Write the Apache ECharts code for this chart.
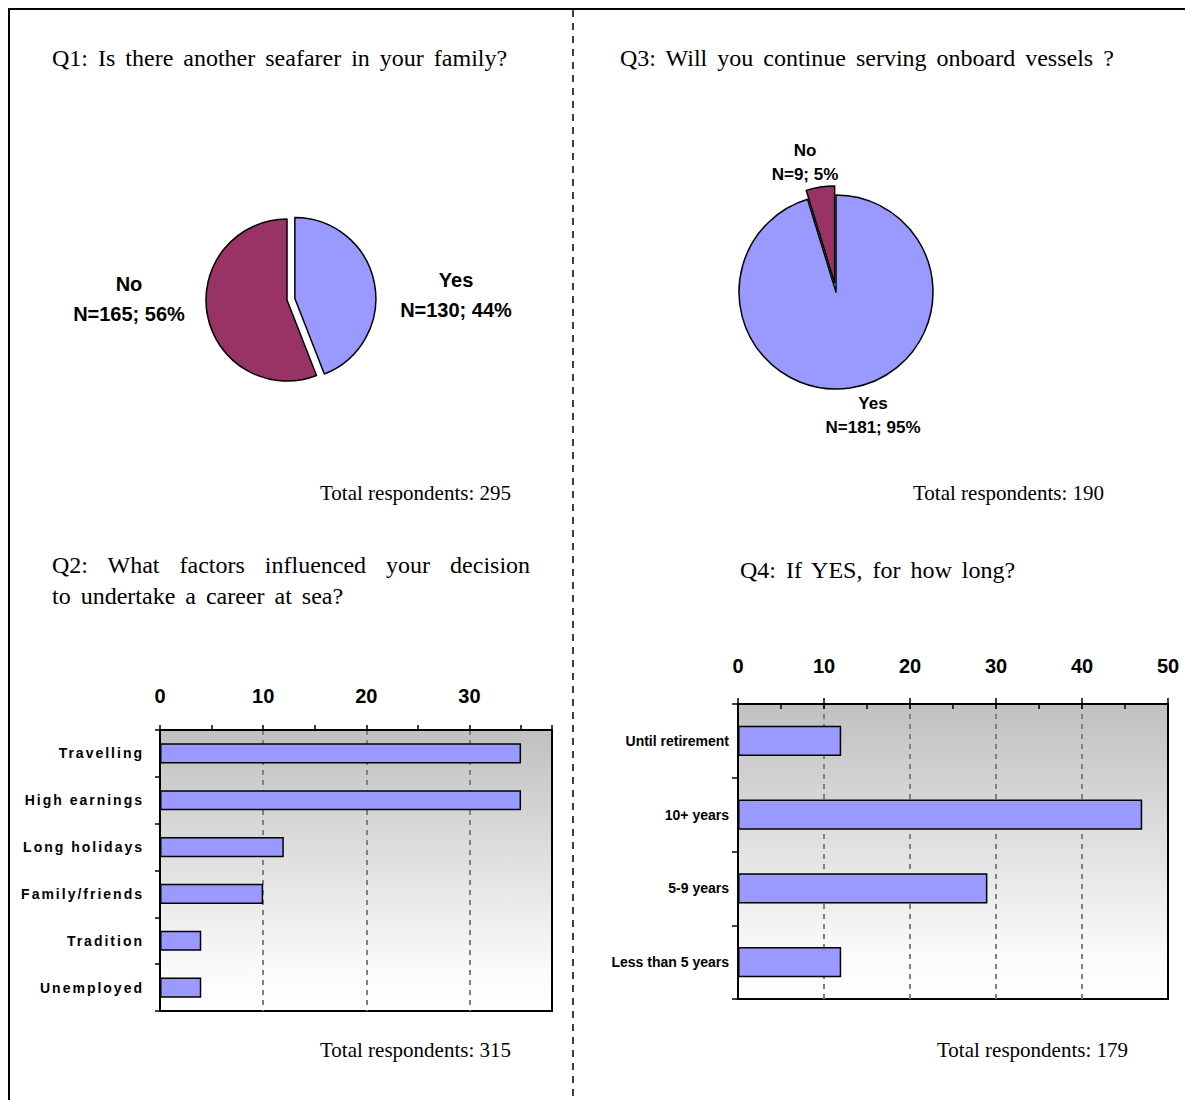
<!DOCTYPE html>
<html>
<head>
<meta charset="utf-8">
<title>Seafarer survey</title>
<script src="https://cdn.jsdelivr.net/npm/echarts@6/dist/echarts.min.js"></script>
<style>
  html, body { margin: 0; padding: 0; background: #ffffff; }
  #chart { width: 1185px; height: 1100px; }
  /* spaced lettering for the Q2 factor labels */
  #chart text[style*="Arimo"] { letter-spacing: 2px; }
  /* question headings are set with wide word gaps */
  #chart text[style*="Times New Roman"] { word-spacing: 4px; }
  #chart text[style*="Tinos"] { word-spacing: 14px; }
</style>
</head>
<body>
<div id="chart"></div>
<script>
// Q1: another seafarer in the family
const q1Names = ['Yes', 'No'];
const q1Values = [130, 165];

// Q3: continue serving onboard
const q3Names = ['Yes', 'No'];
const q3Values = [181, 9];

// Q2: factors behind the career choice (%)
const q2Categories = ['Travelling', 'High earnings', 'Long holidays', 'Family/friends', 'Tradition', 'Unemployed'];
const q2Values = [35, 35, 12, 10, 4, 4];
const q2AxisMax = 38;
const q2LabelStep = 10;
const q2TickStep = 5;

// Q4: for how long (%)
const q4Categories = ['Until retirement', '10+ years', '5-9 years', 'Less than 5 years'];
const q4Values = [12, 47, 29, 12];
const q4AxisMax = 50;
const q4LabelStep = 10;
const q4TickStep = 5;

// Totals printed under each panel
const totals = { q1: 295, q3: 190, q2: 315, q4: 179 };

const SANS = "'Liberation Sans', Arial, sans-serif";
const SANS_SPACED = "'Liberation Sans', Arimo, sans-serif";
const SERIF_TITLE = "'Liberation Serif', 'Times New Roman', serif";
const SERIF_JUSTIFIED = "'Liberation Serif', Tinos, serif";
const SERIF_PLAIN = "'Liberation Serif', serif";

const YES_COLOR = '#9999FF';
const NO_COLOR = '#993366';

const chart = echarts.init(document.getElementById('chart'), null, { renderer: 'svg' });

function pieData(names, values, explode) {
  return names.map((n, i) => ({
    name: n,
    value: values[i],
    selected: n === explode,
    itemStyle: { color: n === 'Yes' ? YES_COLOR : NO_COLOR }
  }));
}

function serifText(text, x, y, size, family) {
  return {
    type: 'text', x: x, y: y, silent: true,
    style: { text: text, font: size + 'px ' + family, fill: '#000', align: 'left', verticalAlign: 'middle' }
  };
}

// "Yes\nN=130; 44%" style captions, worked out from the slice values
function pieCaptions(names, values, places, size, lineHeight) {
  const sum = values.reduce((a, b) => a + b, 0);
  return names.map((n, i) => ({
    type: 'text', x: places[n][0], y: places[n][1], silent: true,
    style: {
      text: n + '\nN=' + values[i] + '; ' + Math.round(values[i] / sum * 100) + '%',
      font: 'bold ' + size + 'px ' + SANS, fill: '#000',
      align: 'center', verticalAlign: 'middle', lineHeight: lineHeight
    }
  }));
}

const plotBg = {
  type: 'linear', x: 0, y: 0, x2: 0, y2: 1,
  colorStops: [
    { offset: 0, color: '#c0c0c0' },
    { offset: 0.85, color: '#fafafa' },
    { offset: 1, color: '#ffffff' }
  ]
};

const dashedGrid = { show: true, showMinLine: false, showMaxLine: false,
  lineStyle: { color: '#808080', width: 2, type: [5, 5] } };

const q1LabelPos = { Yes: [456, 295], No: [129, 299] };
const q3LabelPos = { Yes: [873, 415], No: [805, 162] };

const option = {
  animation: false,
  backgroundColor: '#ffffff',
  graphic: [
    // page frame and centre divider
    { type: 'line', silent: true, shape: { x1: 8, y1: 9, x2: 1185, y2: 9 }, style: { stroke: '#000', lineWidth: 2 } },
    { type: 'line', silent: true, shape: { x1: 9, y1: 8, x2: 9, y2: 1100 }, style: { stroke: '#000', lineWidth: 2 } },
    { type: 'line', silent: true, shape: { x1: 573, y1: 10, x2: 573, y2: 1100 }, style: { stroke: '#000', lineWidth: 1.5, lineDash: [7, 6] } },

    serifText('Q1: Is there another seafarer in your family?', 52, 58, 24, SERIF_TITLE),
    serifText('Q3: Will you continue serving onboard vessels ?', 620, 58, 24, SERIF_TITLE),
    serifText('Total respondents: ' + totals.q1, 320, 493, 21, SERIF_PLAIN),
    serifText('Total respondents: ' + totals.q3, 913, 493, 21, SERIF_PLAIN),
    serifText('Q2: What factors influenced your decision', 52, 565, 24, SERIF_JUSTIFIED),
    serifText('to undertake a career at sea?', 52, 596, 24, SERIF_TITLE),
    serifText('Q4: If YES, for how long?', 740, 570, 24, SERIF_TITLE),
    serifText('Total respondents: ' + totals.q2, 320, 1050, 21, SERIF_PLAIN),
    serifText('Total respondents: ' + totals.q4, 937, 1050, 21, SERIF_PLAIN)
  ]
    .concat(pieCaptions(q1Names, q1Values, q1LabelPos, 20, 30))
    .concat(pieCaptions(q3Names, q3Values, q3LabelPos, 17, 24)),
  grid: [
    { left: 160, top: 730, width: 392, height: 281, show: true,
      backgroundColor: plotBg, borderColor: '#000', borderWidth: 2 },
    { left: 738, top: 704, width: 430, height: 295, show: true,
      backgroundColor: plotBg, borderColor: '#000', borderWidth: 2 }
  ],
  xAxis: [
    { // Q2 labels + dashed grid
      gridIndex: 0, type: 'value', position: 'top', min: 0, max: q2AxisMax, interval: q2LabelStep,
      axisLine: { show: false }, axisTick: { show: false },
      axisLabel: { show: true, showMaxLabel: false, margin: 24, color: '#000',
        fontFamily: SANS, fontWeight: 'bold', fontSize: 20 },
      splitLine: dashedGrid
    },
    { // Q2 tick marks
      gridIndex: 0, type: 'value', position: 'top', min: 0, max: q2AxisMax, interval: q2TickStep,
      axisLine: { show: true, lineStyle: { color: '#000', width: 2 } },
      axisTick: { show: true, length: 5, lineStyle: { color: '#000', width: 1.5 } },
      axisLabel: { show: false }, splitLine: { show: false }
    },
    { // Q4 labels, outer ticks, dashed grid
      gridIndex: 1, type: 'value', position: 'top', min: 0, max: q4AxisMax, interval: q4LabelStep,
      axisLine: { show: true, lineStyle: { color: '#000', width: 2 } },
      axisTick: { show: true, length: 6, lineStyle: { color: '#000', width: 1.5 } },
      axisLabel: { show: true, margin: 28, color: '#000',
        fontFamily: SANS, fontWeight: 'bold', fontSize: 20 },
      splitLine: dashedGrid
    },
    { // Q4 inner ticks
      gridIndex: 1, type: 'value', position: 'top', min: 0, max: q4AxisMax, interval: q4TickStep,
      axisLine: { show: false },
      axisTick: { show: true, inside: true, length: 5, lineStyle: { color: '#000', width: 1.5 } },
      axisLabel: { show: false }, splitLine: { show: false }
    }
  ],
  yAxis: [
    { gridIndex: 0, type: 'category', data: q2Categories, inverse: true,
      axisLine: { show: true, lineStyle: { color: '#000', width: 2 } },
      axisTick: { show: true, length: 5, lineStyle: { color: '#000', width: 1.5 } },
      axisLabel: { margin: 16, color: '#000', fontFamily: SANS_SPACED, fontWeight: 'bold', fontSize: 14 },
      splitLine: { show: false } },
    { gridIndex: 1, type: 'category', data: q4Categories, inverse: true,
      axisLine: { show: true, lineStyle: { color: '#000', width: 2 } },
      axisTick: { show: true, length: 6, lineStyle: { color: '#000', width: 1.5 } },
      axisLabel: { margin: 9, color: '#000', fontFamily: SANS, fontWeight: 'bold', fontSize: 14 },
      splitLine: { show: false } }
  ],
  series: [
    {
      type: 'pie', center: [287, 300], radius: 81, startAngle: 90, clockwise: true,
      selectedMode: 'single', selectedOffset: 8,
      data: pieData(q1Names, q1Values, 'Yes'),
      itemStyle: { borderColor: '#000', borderWidth: 1.5 },
      label: { show: false }, labelLine: { show: false },
      emphasis: { disabled: true }, silent: true
    },
    {
      type: 'pie', center: [836, 292], radius: 97, startAngle: 90, clockwise: true,
      selectedMode: 'single', selectedOffset: 9,
      data: pieData(q3Names, q3Values, 'No'),
      itemStyle: { borderColor: '#000', borderWidth: 1.5 },
      label: { show: false }, labelLine: { show: false },
      emphasis: { disabled: true }, silent: true
    },
    {
      type: 'bar', xAxisIndex: 0, yAxisIndex: 0, data: q2Values, barWidth: '43%',
      itemStyle: { color: YES_COLOR, borderColor: '#000', borderWidth: 1.5 },
      emphasis: { disabled: true }, silent: true
    },
    {
      type: 'bar', xAxisIndex: 2, yAxisIndex: 1, data: q4Values, barWidth: '41%',
      itemStyle: { color: YES_COLOR, borderColor: '#000', borderWidth: 1.5 },
      emphasis: { disabled: true }, silent: true
    }
  ]
};

chart.setOption(option);
</script>
</body>
</html>
